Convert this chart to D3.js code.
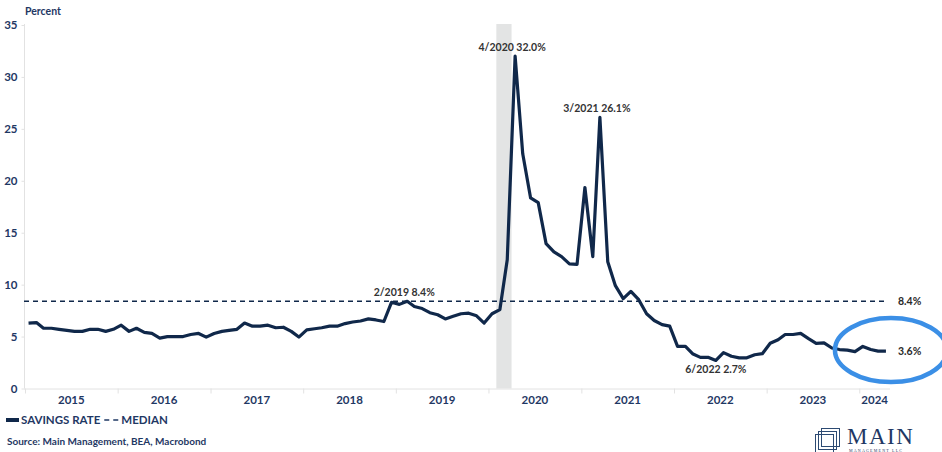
<!DOCTYPE html>
<html>
<head>
<meta charset="utf-8">
<script src="https://cdn.jsdelivr.net/npm/d3@7"></script>
<style>
  body { margin: 0; background: #fff; }
  svg { display: block; }
  text { font-family: Lato, "Open Sans", sans-serif; }
  text.serif { font-family: "Liberation Serif", "DejaVu Serif", serif; }
</style>
</head>
<body>
<svg width="942" height="452"></svg>
<script>
// Personal savings rate, monthly from Jan 2015 to Apr 2024
const savingsRate = [
  6.3, 6.35, 5.8, 5.8, 5.7, 5.6, 5.5, 5.5, 5.7, 5.7, 5.5, 5.7,        // 2015
  6.1, 5.5, 5.8, 5.4, 5.3, 4.85, 5.0, 5.0, 5.0, 5.2, 5.3, 4.95,       // 2016
  5.3, 5.5, 5.6, 5.7, 6.3, 6.0, 6.0, 6.1, 5.85, 5.9, 5.5, 4.95,       // 2017
  5.65, 5.75, 5.85, 6.0, 6.0, 6.25, 6.4, 6.5, 6.7, 6.6, 6.45, 8.3,    // 2018
  8.1, 8.4, 7.9, 7.7, 7.3, 7.1, 6.7, 6.95, 7.2, 7.25, 7.0, 6.3,       // 2019
  7.2, 7.6, 12.4, 32.0, 22.6, 18.35, 17.9, 13.95, 13.15, 12.7, 12.0, 11.95, // 2020
  19.35, 12.7, 26.1, 12.2, 9.9, 8.65, 9.35, 8.55, 7.2, 6.55, 6.15, 6.0,    // 2021
  4.05, 4.05, 3.35, 3.0, 3.0, 2.7, 3.45, 3.1, 2.95, 2.95, 3.25, 3.35, // 2022
  4.35, 4.7, 5.2, 5.2, 5.3, 4.8, 4.35, 4.4, 3.9, 3.75, 3.7, 3.55,     // 2023
  4.05, 3.75, 3.6, 3.6                                                // 2024
];
const startYear = 2015;
const medianRate = 8.4;
const yTicks = [0, 5, 10, 15, 20, 25, 30, 35];
const yearLabels = [2015, 2016, 2017, 2018, 2019, 2020, 2021, 2022, 2023, 2024];
const recession = [new Date(2020, 1, 1), new Date(2020, 3, 1)];
const callouts = [
  { month: "2019-02", text: "2/2019 8.4%", place: "above" },
  { month: "2020-04", text: "4/2020 32.0%", place: "above" },
  { month: "2021-03", text: "3/2021 26.1%", place: "above" },
  { month: "2022-06", text: "6/2022 2.7%", place: "below" }
];

const navy = "#10284a";
const labelNavy = "#1f3864";

const svg = d3.select("svg");

const series = savingsRate.map((v, i) => ({ date: new Date(startYear, i, 15), value: v }));

const x = d3.scaleTime()
  .domain([new Date(2015, 0, 1), new Date(2024, 4, 1)])
  .range([25, 890]);
const y = d3.scaleLinear().domain([0, 35]).range([388.5, 25]);

// recession shading
svg.append("rect")
  .attr("x", x(recession[0]))
  .attr("y", 24)
  .attr("width", x(recession[1]) - x(recession[0]))
  .attr("height", y(0) - 24)
  .attr("fill", "#e3e4e4");

// y axis
const yAxis = svg.append("g")
  .attr("transform", "translate(24.5,0)")
  .call(d3.axisLeft(y).tickValues(yTicks).tickSize(3).tickPadding(4));
yAxis.select(".domain").attr("stroke", "#e2e2e2").attr("d", `M0,24V${y(0)}`);
yAxis.selectAll(".tick line").attr("stroke", "#e2e2e2");
yAxis.selectAll(".tick text")
  .attr("fill", labelNavy).attr("font-size", 11.5).attr("font-weight", 700);

svg.append("text")
  .attr("x", 25).attr("y", 15)
  .attr("fill", labelNavy).attr("font-size", 10.5).attr("font-weight", 700)
  .text("Percent");

// x axis
const xAxis = svg.append("g")
  .attr("transform", `translate(0,${y(0)})`)
  .call(d3.axisBottom(x)
    .tickValues(yearLabels.map(yr => new Date(yr, 0, 1)))
    .tickSize(5).tickFormat(""));
xAxis.select(".domain").attr("stroke", "#e2e2e2").attr("d", `M24,0.5H890`);
xAxis.selectAll(".tick line").attr("stroke", "#e2e2e2");

svg.append("g").selectAll("text")
  .data(yearLabels)
  .join("text")
  .attr("x", yr => (x(new Date(yr, 0, 1)) + Math.min(x(new Date(yr + 1, 0, 1)), x.range()[1])) / 2)
  .attr("y", 404)
  .attr("text-anchor", "middle")
  .attr("fill", labelNavy).attr("font-size", 11.5).attr("font-weight", 700)
  .text(d => d);

// median line
svg.append("line")
  .attr("x1", 24).attr("x2", 888)
  .attr("y1", y(medianRate)).attr("y2", y(medianRate))
  .attr("stroke", navy).attr("stroke-width", 1.4)
  .attr("stroke-dasharray", "5,4");

// savings rate line
svg.append("path")
  .datum(series)
  .attr("fill", "none")
  .attr("stroke", navy)
  .attr("stroke-width", 3.2)
  .attr("stroke-linejoin", "round")
  .attr("d", d3.line().x(d => x(d.date)).y(d => y(d.value)));

// callouts
const byMonth = new Map(series.map(d => [d3.timeFormat("%Y-%m")(d.date), d]));
svg.append("g").selectAll("text")
  .data(callouts)
  .join("text")
  .attr("x", c => x(byMonth.get(c.month).date) - (c.place === "above" ? 3 : 0))
  .attr("y", c => y(byMonth.get(c.month).value) + (c.place === "above" ? -5 : 13))
  .attr("text-anchor", "middle")
  .attr("fill", "#333").attr("font-size", 10.5).attr("font-weight", 700)
  .text(c => c.text);

// end labels
const last = series[series.length - 1];
svg.append("text")
  .attr("x", 898).attr("y", y(medianRate) + 4)
  .attr("fill", "#2a2a2a").attr("font-size", 10.5).attr("font-weight", 700)
  .text(d3.format(".1f")(medianRate) + "%");
svg.append("text")
  .attr("x", 898).attr("y", y(last.value) + 4)
  .attr("fill", "#2a2a2a").attr("font-size", 10.5).attr("font-weight", 700)
  .text(d3.format(".1f")(last.value) + "%");

// highlight ellipse
svg.append("ellipse")
  .attr("cx", x(last.date) + 5).attr("cy", y(last.value) - 1)
  .attr("rx", 56).attr("ry", 32)
  .attr("fill", "none")
  .attr("stroke", "#3b8fe6")
  .attr("stroke-width", 4.5);

// legend
const leg = svg.append("g").attr("transform", "translate(0,420)");
leg.append("line").attr("x1", 6).attr("x2", 19).attr("stroke", navy).attr("stroke-width", 4);
const t1 = leg.append("text").attr("x", 21).attr("y", 4)
  .attr("fill", labelNavy).attr("font-size", 11.5).attr("font-weight", 700)
  .text("SAVINGS RATE");
const dashX = 21 + t1.node().getComputedTextLength() + 4;
leg.append("line").attr("x1", dashX).attr("x2", dashX + 14)
  .attr("stroke", labelNavy).attr("stroke-width", 1.6).attr("stroke-dasharray", "5,4");
leg.append("text").attr("x", dashX + 17).attr("y", 4)
  .attr("fill", labelNavy).attr("font-size", 11.5).attr("font-weight", 700)
  .text("MEDIAN");

svg.append("text")
  .attr("x", 7).attr("y", 445)
  .attr("fill", labelNavy).attr("font-size", 10).attr("font-weight", 700)
  .text("Source: Main Management, BEA, Macrobond");

// logo
const logo = svg.append("g").attr("fill", "none").attr("stroke", "#2c4a72").attr("stroke-width", 1);
[[815.5, 434.5], [818.5, 431.5], [821.5, 428.5]].forEach(([lx, ly]) => {
  logo.append("rect").attr("x", lx).attr("y", ly).attr("width", 18).attr("height", 18);
});
svg.append("text")
  .attr("class", "serif")
  .attr("x", 847).attr("y", 444)
  .attr("fill", "#1f3864")
  .attr("font-size", 23)
  .attr("letter-spacing", 1.5)
  .text("MAIN");
svg.append("text")
  .attr("class", "serif")
  .attr("x", 849).attr("y", 452)
  .attr("fill", "#1f3864")
  .attr("font-size", 4)
  .attr("letter-spacing", 1.2)
  .text("MANAGEMENT LLC");
</script>
</body>
</html>
